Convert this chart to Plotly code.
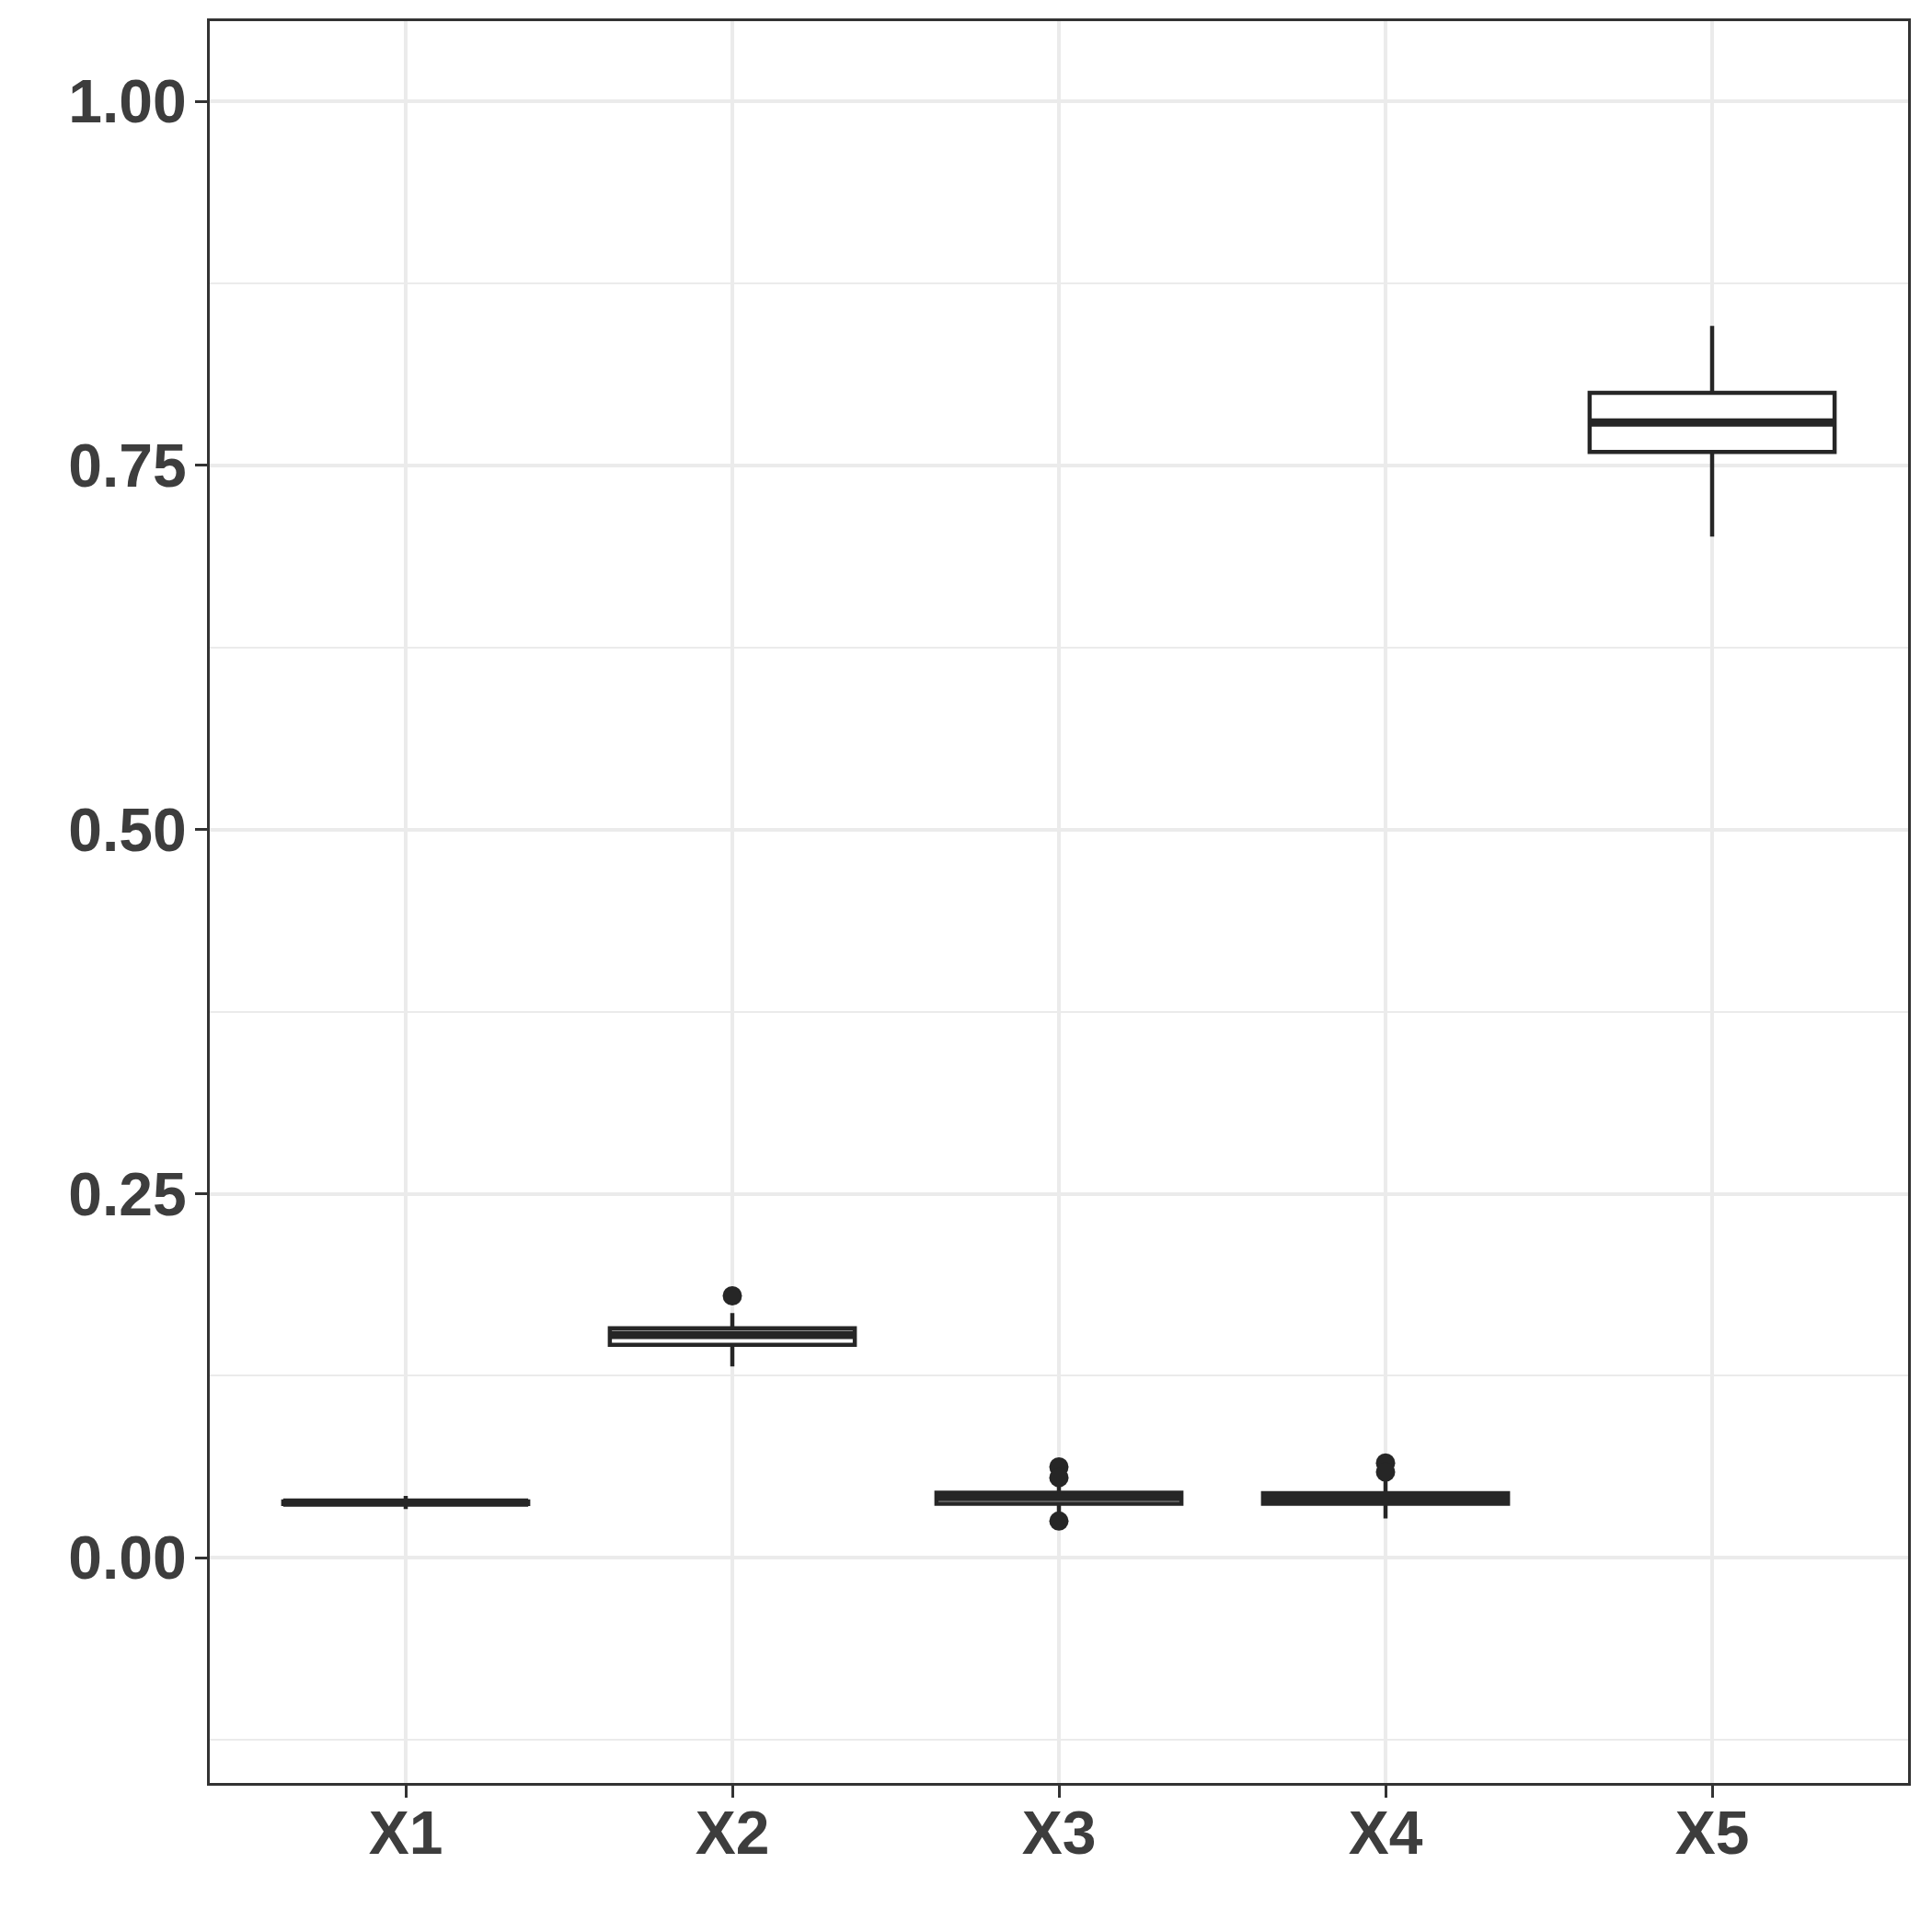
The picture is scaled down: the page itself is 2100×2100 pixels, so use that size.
import plotly.graph_objects as go

labels = ["X1", "X2", "X3", "X4", "X5"]
positions = [1, 2, 3, 4, 5]
lower_whisker = [0.0336, 0.1315, 0.0309, 0.0271, 0.7012]
q1 = [0.0371, 0.1463, 0.0372, 0.0372, 0.7593]
median = [0.0379, 0.1531, 0.0417, 0.0410, 0.7795]
q3 = [0.0387, 0.1577, 0.0448, 0.0445, 0.7999]
upper_whisker = [0.0425, 0.1681, 0.0518, 0.0543, 0.8458]

outlier_x = [2, 3, 3, 3, 4, 4]
outlier_y = [0.1799, 0.0625, 0.0551, 0.0253, 0.0652, 0.0589]

BOX_WIDTH = 0.75
INK = "#262626"
TEXT = "#3d3d3d"
GRID = "#ebebeb"

fig = go.Figure()
fig.add_trace(go.Box(
    x=positions, q1=q1, median=median, q3=q3,
    lowerfence=lower_whisker, upperfence=upper_whisker,
    width=BOX_WIDTH, whiskerwidth=0, boxpoints=False,
    fillcolor="white", line=dict(color=INK, width=4.5),
    showlegend=False, hoverinfo="skip",
))

# thicker median bar, like ggplot's fatten
mx, my = [], []
for p, m in zip(positions, median):
    mx += [p - BOX_WIDTH / 2, p + BOX_WIDTH / 2, None]
    my += [m, m, None]
fig.add_trace(go.Scatter(x=mx, y=my, mode="lines", line=dict(color=INK, width=9),
                         showlegend=False, hoverinfo="skip"))

fig.add_trace(go.Scatter(x=outlier_x, y=outlier_y, mode="markers",
                         marker=dict(color=INK, size=21), showlegend=False))

axis_common = dict(
    showline=True, linecolor="#333333", linewidth=3, mirror=True,
    ticks="outside", ticklen=13, tickwidth=3, tickcolor="#333333",
    gridcolor=GRID, gridwidth=3.5, zeroline=False,
    tickfont=dict(family="Liberation Sans", size=66, color=TEXT, weight="bold"),
)

fig.update_xaxes(
    range=[0.4, 5.6], tickmode="array", tickvals=positions, ticktext=labels,
    ticklabelstandoff=-18,
    **axis_common,
)
fig.update_yaxes(
    range=[-0.1545, 1.055], tick0=0, dtick=0.25, tickformat=".2f",
    minor=dict(tick0=0.125, dtick=0.25, showgrid=True, gridcolor=GRID, gridwidth=2),
    ticklabelstandoff=-4,
    **axis_common,
)

fig.update_layout(
    width=2100, height=2100,
    margin=dict(l=220, r=34, t=15, b=170),
    plot_bgcolor="white", paper_bgcolor="white",
)

fig.write_html("out.html")
